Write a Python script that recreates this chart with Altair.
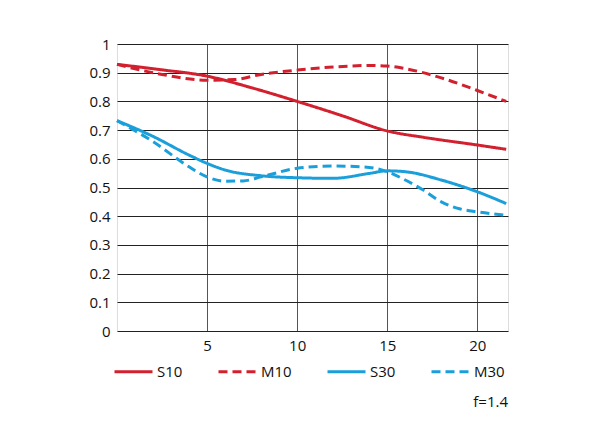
import altair as alt
import pandas as pd

series_names = ["S10", "M10", "S30", "M30"]

s10_x = [0, 2.5, 5, 7.5, 10, 12.5, 15, 17, 20, 21.6]
s10_y = [0.929, 0.91, 0.888, 0.847, 0.80, 0.75, 0.697, 0.675, 0.648, 0.633]

m10_x = [0, 2.5, 5, 6.5, 8, 10, 12, 14, 15, 16, 18, 20, 21.6]
m10_y = [0.929, 0.894, 0.874, 0.876, 0.894, 0.909, 0.92, 0.925, 0.923, 0.914, 0.882, 0.838, 0.80]

s30_x = [0, 2, 4, 5, 6, 8, 10, 12, 14, 15, 16, 18, 20, 21.6]
s30_y = [0.733, 0.678, 0.613, 0.584, 0.561, 0.541, 0.534, 0.532, 0.549, 0.558, 0.555, 0.526, 0.485, 0.444]

m30_x = [0, 2, 4, 5, 6, 7, 8, 10, 12, 14, 15, 16, 17, 18, 19, 20, 21.6]
m30_y = [0.733, 0.66, 0.572, 0.537, 0.522, 0.523, 0.537, 0.567, 0.575, 0.570, 0.555, 0.526, 0.491, 0.45, 0.426, 0.415, 0.403]

x_ticks = [5, 10, 15, 20]
y_ticks = [0, 0.1, 0.2, 0.3, 0.4, 0.5, 0.6, 0.7, 0.8, 0.9, 1]
aperture_note = "f=1.4"

colors = ["#d2202f", "#d2202f", "#1a9fdb", "#1a9fdb"]
dashes = [[1, 0], [9, 5], [1, 0], [9, 5]]

rows = []
for name, xs, ys in zip(series_names, [s10_x, m10_x, s30_x, m30_x], [s10_y, m10_y, s30_y, m30_y]):
    for i, (a, b) in enumerate(zip(xs, ys)):
        rows.append({"series": name, "x": a, "y": b, "order": i})
df = pd.DataFrame(rows)

FONT = "Open Sans"
FS = 15

legend_cfg = dict(title=None, orient="none", legendX=-4, legendY=307,
                  direction="horizontal", symbolType="stroke",
                  symbolSize=1444, symbolStrokeWidth=3,
                  labelFontSize=FS, labelFont=FONT, labelColor="#111111",
                  labelOffset=3, columnPadding=29)

lines = alt.Chart(df).mark_line(strokeWidth=3, interpolate="monotone").encode(
    x=alt.X("x:Q", scale=alt.Scale(domain=[0, 21.7], nice=False, zero=False),
            axis=alt.Axis(values=x_ticks, title=None, grid=True, gridColor="#555555",
                          gridWidth=1, ticks=False, domain=False, labelPadding=7,
                          labelFontSize=FS, labelFont=FONT, labelColor="#111111")),
    y=alt.Y("y:Q", scale=alt.Scale(domain=[0, 1], nice=False),
            axis=alt.Axis(values=y_ticks, title=None, grid=True, gridColor="#222222",
                          gridWidth=1, ticks=False, domain=False, labelPadding=7,
                          labelFontSize=FS, labelFont=FONT, labelColor="#111111",
                          labelExpr="datum.value == 1 ? '1' : (datum.value == 0 ? '0' : format(datum.value, '.1f'))")),
    color=alt.Color("series:N", scale=alt.Scale(domain=series_names, range=colors),
                    legend=alt.Legend(**legend_cfg)),
    strokeDash=alt.StrokeDash("series:N", scale=alt.Scale(domain=series_names, range=dashes),
                              legend=alt.Legend(**legend_cfg)),
    order="order:Q",
    detail="series:N",
)

note = alt.Chart(pd.DataFrame({"t": [aperture_note]})).mark_text(
    align="right", baseline="middle", fontSize=FS, font=FONT, color="#111111"
).encode(text="t:N", x=alt.value(391), y=alt.value(358))

chart = alt.layer(lines, note).properties(
    width=391, height=287,
    autosize=alt.AutoSizeParams(type="none"),
    padding={"left": 109, "top": 36, "right": 80, "bottom": 100},
).configure_view(stroke="#999999", strokeWidth=1).configure(background="white")

chart.save("out.html", embed_options={"renderer": "svg", "actions": False})
